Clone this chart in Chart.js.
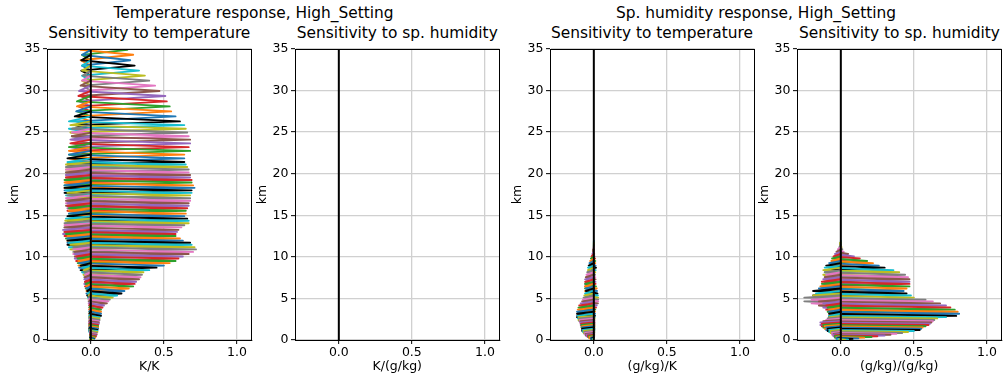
<!DOCTYPE html>
<html><head><meta charset="utf-8">
<script src="https://cdn.jsdelivr.net/npm/chart.js@4.4.0/dist/chart.umd.min.js"></script>
<style>
html,body{margin:0;padding:0;background:#fff;}
body{width:1003px;height:375px;position:relative;overflow:hidden;font-family:"DejaVu Sans",sans-serif;}
.t{position:absolute;font-size:15.4px;line-height:15.4px;white-space:nowrap;color:#000;transform:translateX(-50%);}
canvas{position:absolute;}
</style></head><body>
<div class="t" style="left:253.5px;top:6px">Temperature response, High_Setting</div>
<div class="t" style="left:756px;top:6px">Sp. humidity response, High_Setting</div>
<div class="t" style="left:149.3px;top:26px">Sensitivity to temperature</div>
<div class="t" style="left:397.3px;top:26px">Sensitivity to sp. humidity</div>
<div class="t" style="left:652px;top:26px">Sensitivity to temperature</div>
<div class="t" style="left:899.5px;top:26px">Sensitivity to sp. humidity</div>
<canvas id="c0" width="257" height="336" style="left:0px;top:39px"></canvas>
<canvas id="c1" width="257" height="336" style="left:248px;top:39px"></canvas>
<canvas id="c2" width="257" height="336" style="left:503px;top:39px"></canvas>
<canvas id="c3" width="257" height="336" style="left:750.3px;top:39px"></canvas>
<script>
// ---- data (km levels from top of model downward) ----
const levels = [34.9,34.3,33.65,33.0,32.4,31.8,31.2,30.6,29.95,29.35,
 28.7,28.1,27.5,26.9,26.3,25.85,25.4,24.95,24.5,24.1,
 23.65,23.2,22.75,22.3,21.85,21.4,21.1,20.8,20.5,20.15,
 19.85,19.55,19.25,18.95,18.6,18.3,18.0,17.7,17.4,17.05,
 16.75,16.45,16.15,15.85,15.55,15.2,14.9,14.6,14.35,14.05,
 13.8,13.55,13.25,13.0,12.75,12.5,12.2,11.95,11.7,11.45,
 11.15,10.9,10.6,10.35,10.05,9.8,9.5,9.25,8.95,8.7,
 8.4,8.15,7.85,7.55,7.3,7.0,6.75,6.45,6.2,5.9,
 5.6,5.35,5.1,4.85,4.65,4.4,4.15,3.9,3.65,3.4,
 3.15,2.9,2.75,2.6,2.4,2.25,2.1,1.95,1.8,1.65,
 1.5,1.35,1.2,1.08,0.96,0.85,0.74,0.64,0.54,0.45,
 0.36,0.28,0.2,0.13,0.07,0.02];

// Temperature response to temperature (K/K): spike value and neighbour value per level
const ttPeak = [0.25,0.29,0.27,0.30,0.33,0.37,0.40,0.44,0.47,0.51,
 0.52,0.54,0.55,0.58,0.61,0.64,0.65,0.66,0.67,0.68,
 0.68,0.67,0.68,0.64,0.64,0.64,0.65,0.66,0.67,0.67,
 0.68,0.68,0.69,0.69,0.70,0.71,0.69,0.69,0.68,0.68,
 0.68,0.67,0.67,0.66,0.65,0.65,0.64,0.66,0.67,0.67,
 0.64,0.62,0.60,0.59,0.58,0.58,0.61,0.63,0.68,0.69,
 0.71,0.72,0.70,0.67,0.63,0.60,0.58,0.54,0.50,0.45,
 0.40,0.36,0.35,0.34,0.33,0.31,0.30,0.29,0.26,0.23,
 0.21,0.18,0.15,0.13,0.12,0.11,0.09,0.08,0.07,0.07,
 0.07,0.07,0.06,0.06,0.06,0.055,0.055,0.055,0.05,0.05,
 0.05,0.05,0.045,0.045,0.045,0.04,0.04,0.04,0.035,0.035,
 0.03,0.03,0.025,0.02,0.02,0.015];
const ttTrough = [-0.06,-0.07,-0.06,-0.065,-0.06,-0.06,-0.055,-0.06,-0.07,-0.08,
 -0.085,-0.095,-0.095,-0.10,-0.11,-0.15,-0.14,-0.13,-0.13,-0.13,
 -0.14,-0.14,-0.15,-0.15,-0.15,-0.16,-0.16,-0.17,-0.17,-0.17,
 -0.17,-0.17,-0.17,-0.18,-0.18,-0.18,-0.18,-0.17,-0.16,-0.16,
 -0.17,-0.17,-0.16,-0.16,-0.15,-0.15,-0.15,-0.16,-0.17,-0.175,
 -0.18,-0.18,-0.18,-0.19,-0.18,-0.17,-0.16,-0.16,-0.16,-0.15,
 -0.14,-0.12,-0.12,-0.11,-0.11,-0.10,-0.09,-0.085,-0.08,-0.07,
 -0.06,-0.05,-0.045,-0.04,-0.04,-0.045,-0.04,-0.035,-0.03,-0.03,
 -0.025,-0.02,-0.015,-0.015,-0.015,-0.01,-0.01,-0.01,-0.01,-0.01,
 -0.01,-0.01,-0.01,-0.01,-0.01,-0.01,-0.01,-0.01,-0.01,-0.01,
 -0.01,-0.01,-0.01,-0.01,-0.005,-0.005,-0.005,-0.005,-0.005,-0.005,
 -0.005,-0.005,-0.005,-0.005,-0.005,-0.005];

// humidity responses exist only for the lower levels (level index 59 downward)
const qFirstLevel = 59;
const qtPeak = [0,0,0,0,0.003,0.005,0.008,0.01,0.01,0.012,
 0.015,0.012,0.01,0.008,0.01,0.012,0.012,0.012,0.015,0.02,
 0.022,0.025,0.028,0.03,0.03,0.03,0.028,0.02,0.015,0.01,
 0.008,0.008,0.008,0.006,0.006,0.005,0.005,0.005,0.005,0.005,
 0.005,0.005,0.005,0.004,0.004,0.004,0.004,0.003,0.003,0.003,
 0.003,0.002,0.002,0.002,0.001,0.001,0.0];
const qtTrough = [0,0,0,-0.002,-0.005,-0.01,-0.015,-0.02,-0.025,-0.03,
 -0.035,-0.04,-0.04,-0.045,-0.05,-0.055,-0.06,-0.06,-0.06,-0.06,
 -0.055,-0.055,-0.06,-0.065,-0.07,-0.075,-0.08,-0.09,-0.10,-0.105,
 -0.11,-0.115,-0.115,-0.11,-0.105,-0.10,-0.095,-0.09,-0.09,-0.085,
 -0.085,-0.08,-0.08,-0.08,-0.075,-0.07,-0.065,-0.06,-0.055,-0.05,
 -0.04,-0.035,-0.03,-0.02,-0.015,-0.01,-0.005];
const qqPeak = [0,0.005,0.01,0.02,0.05,0.09,0.13,0.18,0.22,0.26,
 0.30,0.36,0.40,0.44,0.46,0.47,0.47,0.47,0.47,0.45,
 0.43,0.45,0.48,0.50,0.58,0.63,0.68,0.72,0.75,0.78,
 0.80,0.81,0.79,0.72,0.66,0.64,0.63,0.62,0.61,0.60,
 0.58,0.56,0.55,0.54,0.50,0.46,0.42,0.38,0.34,0.30,
 0.25,0.21,0.16,0.12,0.08,0.05,0.03];
const qqTrough = [0,-0.005,-0.01,-0.02,-0.03,-0.04,-0.05,-0.06,-0.065,-0.08,
 -0.10,-0.11,-0.12,-0.11,-0.10,-0.11,-0.12,-0.13,-0.13,-0.14,
 -0.15,-0.19,-0.17,-0.19,-0.25,-0.20,-0.15,-0.12,-0.10,-0.09,
 -0.08,-0.08,-0.08,-0.08,-0.08,-0.09,-0.10,-0.12,-0.14,-0.13,
 -0.12,-0.11,-0.10,-0.09,-0.08,-0.07,-0.06,-0.06,-0.05,-0.05,
 -0.04,-0.04,-0.03,-0.03,-0.02,-0.02,-0.01];

const xTicks = [0.0, 0.5, 1.0];
const yTicks = [0, 5, 10, 15, 20, 25, 30, 35];
const xLabels = ["K/K", "K/(g/kg)", "(g/kg)/K", "(g/kg)/(g/kg)"];
const yLabel = "km";
const palette = ['#1f77b4','#ff7f0e','#2ca02c','#d62728','#9467bd','#8c564b','#e377c2','#7f7f7f','#bcbd22','#17becf','#000000'];

// ---- build line datasets ----
function spikeSets(peaks, troughs, first) {
  const sets = [];
  for (let k = 0; k < peaks.length; k++) {
    const t = k + first;
    const pts = [];
    for (let j = t - 2; j <= t + 2; j++) {
      if (j < 0 || j >= levels.length) continue;
      const d = Math.abs(j - t);
      const x = d === 0 ? peaks[k] : (d === 1 ? troughs[k] : 0);
      pts.push({x: x, y: levels[j]});
    }
    const ci = (((2 - t) % 11) + 11) % 11;
    sets.push({data: pts, borderColor: palette[ci], borderWidth: 1.9, showLine: true,
      pointRadius: 0, borderJoinStyle: 'round', borderCapStyle: 'round', tension: 0});
  }
  return sets.reverse(); // later levels drawn on top
}
function zeroSet() {
  return {data: [{x: 0, y: yTicks[0]}, {x: 0, y: yTicks[yTicks.length - 1]}],
    borderColor: '#000', borderWidth: 2, showLine: true, pointRadius: 0};
}

const frame = {
  id: 'frame',
  afterDatasetsDraw(chart) {
    const a = chart.chartArea, c = chart.ctx;
    c.save(); c.strokeStyle = '#000'; c.lineWidth = 1;
    c.strokeRect(Math.round(a.left) + 0.5, Math.round(a.top) + 0.5, Math.round(a.right - a.left) - 1, Math.round(a.bottom - a.top));
    c.restore();
  }
};

const font = {family: 'DejaVu Sans', size: 12.5};
function makeChart(id, datasets, xlab) {
  new Chart(document.getElementById(id), {
    type: 'scatter',
    data: {datasets: [zeroSet()].concat(datasets)},
    plugins: [frame],
    options: {
      responsive: false, animation: false, devicePixelRatio: 1,
      layout: {padding: {top: 6, right: 5.5, left: 0, bottom: 0}},
      plugins: {legend: {display: false}, tooltip: {enabled: false}},
      scales: {
        x: {type: 'linear', min: -0.3, max: 1.1,
          afterBuildTicks: s => { s.ticks = xTicks.map(v => ({value: v})); },
          afterFit: s => { s.height = 35; },
          ticks: {callback: v => v.toFixed(1), color: '#000', font: font, padding: 1, maxRotation: 0, autoSkip: false},
          grid: {color: '#d0d0d0', lineWidth: 1.3, tickColor: '#000', tickWidth: 1, tickLength: 4},
          border: {color: '#000', width: 1},
          title: {display: true, text: xlab, color: '#000', font: font, padding: 0.5}},
        y: {type: 'linear', min: 0, max: 35,
          afterBuildTicks: s => { s.ticks = yTicks.map(v => ({value: v})); },
          afterFit: s => { s.width = 47; },
          ticks: {color: '#000', font: font, padding: 2.5, autoSkip: false},
          grid: {color: '#d0d0d0', lineWidth: 1.3, tickColor: '#000', tickWidth: 1, tickLength: 4},
          border: {color: '#000', width: 1},
          title: {display: true, text: yLabel, color: '#000', font: font, padding: {top: 7, bottom: 0}}}
      }
    }
  });
}
makeChart('c0', spikeSets(ttPeak, ttTrough, 0), xLabels[0]);
makeChart('c1', [], xLabels[1]);
makeChart('c2', spikeSets(qtPeak, qtTrough, qFirstLevel), xLabels[2]);
makeChart('c3', spikeSets(qqPeak, qqTrough, qFirstLevel), xLabels[3]);
</script>
</body></html>
